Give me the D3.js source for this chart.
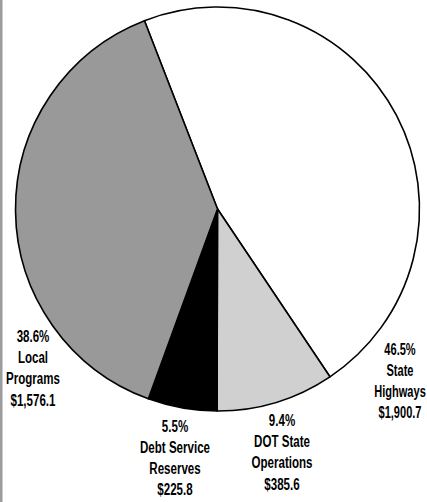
<!DOCTYPE html>
<html>
<head>
<meta charset="utf-8">
<script src="https://cdn.jsdelivr.net/npm/d3@7"></script>
<style>
  body { margin: 0; background: #fff; }
  svg { display: block; }
</style>
</head>
<body>
<div id="chart"></div>
<script>
// slice data, clockwise from the top-left boundary
var categories = ["State Highways", "DOT State Operations", "Debt Service Reserves", "Local Programs"];
var values = [1900.7, 385.6, 225.8, 1576.1];
var percents = ["46.5%", "9.4%", "5.5%", "38.6%"];
var amounts = ["$1,900.7", "$385.6", "$225.8", "$1,576.1"];
var labelLines = [["State", "Highways"], ["DOT State", "Operations"], ["Debt Service", "Reserves"], ["Local", "Programs"]];

function init(){
    var w = 427;
    var h = 502;
    var cx = 217.5, cy = 209, r = 202;

    var fills = ["#ffffff", "#d0d0d0", "#000000", "#999999"];
    // where each label block starts (first baseline)
    var labelPos = [[400, 354.5], [282, 426], [175, 431.5], [33, 342]];
    var lineH = 21.2;
    // condensed look: squeeze the text horizontally (right label a bit tighter)
    var squeeze = [0.65, 0.68, 0.68, 0.68];

    var svg = d3.select('#chart')
                .append('svg')
                .attr('width', w)
                .attr('height', h);

    // grey rule on the left edge
    svg.append('rect')
        .attr('x', 0).attr('y', 0)
        .attr('width', 2.5).attr('height', h)
        .attr('fill', '#9c9c9c');

    var start = -21.2 * Math.PI / 180;
    var pie = d3.pie()
                .sort(null)
                .startAngle(start)
                .endAngle(start + 2 * Math.PI);

    var arc = d3.arc().innerRadius(0).outerRadius(r);

    var g = svg.append('g')
               .attr('transform', 'translate(' + cx + ',' + cy + ')');

    g.selectAll('path')
        .data(pie(values))
        .enter()
        .append('path')
        .attr('d', arc)
        .attr('fill', function(d, i){ return fills[i]; })
        .attr('stroke', '#000')
        .attr('stroke-width', 1.6)
        .attr('stroke-linejoin', 'round');

    var labels = svg.selectAll('g.lbl')
        .data(categories)
        .enter()
        .append('g')
        .attr('class', 'lbl')
        .attr('transform', function(d, i){
            return 'translate(' + labelPos[i][0] + ',' + labelPos[i][1] + ') scale(' + squeeze[i] + ',1)';
        })
        .append('text')
        .attr('text-anchor', 'middle')
        .attr('font-family', '"Liberation Sans", Arial, sans-serif')
        .attr('font-weight', 'bold')
        .attr('font-size', 17)
        .attr('fill', '#000');

    labels.each(function(d, i){
        var lines = [percents[i]].concat(labelLines[i], [amounts[i]]);
        var t = d3.select(this);
        lines.forEach(function(s, k){
            t.append('tspan')
             .attr('x', 0)
             .attr('y', k * lineH)
             .text(s);
        });
    });
}

window.onload = init;
</script>
</body>
</html>
